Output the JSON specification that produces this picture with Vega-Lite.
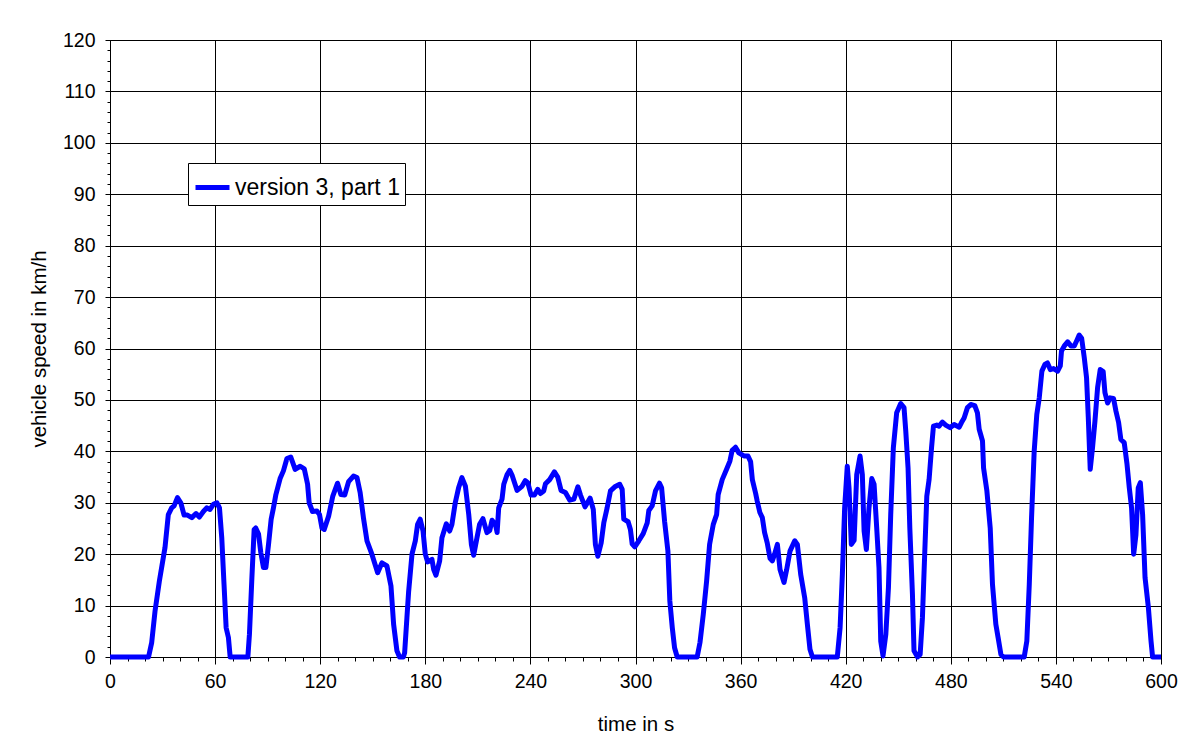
{
  "$schema": "https://vega.github.io/schema/vega-lite/v6.json",
  "width": 1051,
  "height": 617,
  "autosize": {"type": "none"},
  "padding": {"left": 110, "top": 40, "right": 43, "bottom": 92},
  "background": "white",
  "config": {
    "font": "Liberation Sans",
    "view": {"stroke": "black", "strokeWidth": 1},
    "axis": {
      "domainColor": "black",
      "tickColor": "black",
      "gridColor": "black",
      "gridWidth": 1,
      "labelColor": "black",
      "titleColor": "black",
      "labelFont": "Liberation Sans",
      "titleFont": "Liberation Sans",
      "labelFontSize": 19.5,
      "titleFontSize": 20.5,
      "titleFontWeight": "normal"
    }
  },
  "data": {
    "values": [
      {"t": 0, "v": 0}, {"t": 22, "v": 0}, {"t": 23.8, "v": 2.8}, {"t": 25.7, "v": 8.9}, {"t": 28.2, "v": 14.8},
      {"t": 31.4, "v": 21.3}, {"t": 33.3, "v": 27.7}, {"t": 35.2, "v": 29}, {"t": 36.6, "v": 29.4}, {"t": 38.5, "v": 31},
      {"t": 40.4, "v": 30}, {"t": 42.3, "v": 27.6}, {"t": 44.2, "v": 27.6}, {"t": 46.7, "v": 27.1}, {"t": 49.1, "v": 27.9},
      {"t": 51, "v": 27.2}, {"t": 53.3, "v": 28.3}, {"t": 55.2, "v": 29}, {"t": 57.1, "v": 28.7}, {"t": 59, "v": 29.7},
      {"t": 61, "v": 30}, {"t": 62.5, "v": 29}, {"t": 63.8, "v": 23.2}, {"t": 65.1, "v": 14.1}, {"t": 66.3, "v": 5.7},
      {"t": 67.6, "v": 3.8}, {"t": 68.6, "v": 0}, {"t": 78.7, "v": 0}, {"t": 79.6, "v": 4.4}, {"t": 81, "v": 15.4},
      {"t": 82.3, "v": 24.8}, {"t": 83.2, "v": 25.1}, {"t": 84.8, "v": 23.9}, {"t": 86.1, "v": 20.3}, {"t": 87.6, "v": 17.4},
      {"t": 89, "v": 17.4}, {"t": 90.5, "v": 21.9}, {"t": 92, "v": 26.8}, {"t": 93.3, "v": 29}, {"t": 94.7, "v": 31.6},
      {"t": 97.1, "v": 34.7}, {"t": 99, "v": 36.2}, {"t": 101, "v": 38.6}, {"t": 103.2, "v": 38.9}, {"t": 105.7, "v": 36.5},
      {"t": 108.6, "v": 37.1}, {"t": 110.9, "v": 36.6}, {"t": 112.8, "v": 33.6}, {"t": 113.7, "v": 30}, {"t": 115.6, "v": 28.3},
      {"t": 118.1, "v": 28.4}, {"t": 119.6, "v": 27.7}, {"t": 121, "v": 25.1}, {"t": 122.3, "v": 24.8}, {"t": 124.8, "v": 27.4},
      {"t": 127.2, "v": 31.3}, {"t": 129.9, "v": 33.8}, {"t": 131.8, "v": 31.6}, {"t": 134, "v": 31.5}, {"t": 136.2, "v": 34.1},
      {"t": 139, "v": 35.2}, {"t": 141, "v": 34.9}, {"t": 142.8, "v": 32}, {"t": 144.8, "v": 26.8}, {"t": 146.7, "v": 22.6},
      {"t": 149.5, "v": 20}, {"t": 152.8, "v": 16.4}, {"t": 155.2, "v": 18.3}, {"t": 158.1, "v": 17.7}, {"t": 160.4, "v": 13.8},
      {"t": 161.9, "v": 6.4}, {"t": 163.8, "v": 1.2}, {"t": 165.3, "v": 0}, {"t": 167.5, "v": 0}, {"t": 168.2, "v": 0.8},
      {"t": 169.5, "v": 7.6}, {"t": 170.5, "v": 12.8}, {"t": 172.4, "v": 20}, {"t": 174.3, "v": 22.6}, {"t": 175.6, "v": 25.8},
      {"t": 177.1, "v": 26.8}, {"t": 178.7, "v": 24.5}, {"t": 180, "v": 20}, {"t": 181.3, "v": 18.5}, {"t": 183.8, "v": 19},
      {"t": 184.8, "v": 17}, {"t": 186.1, "v": 15.9}, {"t": 188.2, "v": 18.7}, {"t": 189.5, "v": 23.2}, {"t": 192, "v": 25.9},
      {"t": 193.9, "v": 24.5}, {"t": 195.2, "v": 25.8}, {"t": 197.1, "v": 30}, {"t": 199, "v": 32.9}, {"t": 200.9, "v": 34.9},
      {"t": 202.9, "v": 33.2}, {"t": 204.8, "v": 27.7}, {"t": 206.3, "v": 21.9}, {"t": 207.6, "v": 19.8}, {"t": 209.5, "v": 23.2},
      {"t": 211, "v": 25.8}, {"t": 212.9, "v": 26.9}, {"t": 215.2, "v": 24.2}, {"t": 216.8, "v": 24.6}, {"t": 218.1, "v": 26.6},
      {"t": 220, "v": 25.8}, {"t": 221, "v": 24.2}, {"t": 221.9, "v": 29}, {"t": 223.8, "v": 30.7}, {"t": 224.8, "v": 33.6},
      {"t": 226.7, "v": 35.5}, {"t": 228.2, "v": 36.3}, {"t": 229.5, "v": 35.4}, {"t": 232.4, "v": 32.4}, {"t": 235.2, "v": 33.2},
      {"t": 237.1, "v": 34.3}, {"t": 238.5, "v": 33.9}, {"t": 240.4, "v": 31.5}, {"t": 242.3, "v": 31.5}, {"t": 244.2, "v": 32.6},
      {"t": 245.7, "v": 31.8}, {"t": 247.6, "v": 32.3}, {"t": 248.6, "v": 33.7}, {"t": 251, "v": 34.5}, {"t": 253.7, "v": 36},
      {"t": 255.6, "v": 35}, {"t": 257.5, "v": 32.4}, {"t": 260, "v": 32}, {"t": 262.5, "v": 30.5}, {"t": 264.8, "v": 30.7},
      {"t": 267.1, "v": 33.1}, {"t": 268.6, "v": 31.5}, {"t": 271.2, "v": 29.2}, {"t": 274.1, "v": 30.9}, {"t": 275.9, "v": 28.7},
      {"t": 277.1, "v": 21.9}, {"t": 278.5, "v": 19.6}, {"t": 280.4, "v": 22.2}, {"t": 281.9, "v": 26.1}, {"t": 283.8, "v": 29},
      {"t": 285.7, "v": 32.3}, {"t": 288.2, "v": 33.1}, {"t": 291, "v": 33.6}, {"t": 292.4, "v": 32.6}, {"t": 293.3, "v": 26.8},
      {"t": 295.8, "v": 26.3}, {"t": 297.1, "v": 24.8}, {"t": 298.1, "v": 22}, {"t": 299.6, "v": 21.4}, {"t": 301.9, "v": 22.6},
      {"t": 304.4, "v": 24}, {"t": 306.7, "v": 26.1}, {"t": 307.6, "v": 28.5}, {"t": 309.5, "v": 29.4}, {"t": 311.4, "v": 32.3},
      {"t": 313.7, "v": 33.8}, {"t": 314.9, "v": 32.9}, {"t": 316.6, "v": 26.4}, {"t": 318.5, "v": 20.6}, {"t": 319.6, "v": 10.9},
      {"t": 321, "v": 5.7}, {"t": 322.3, "v": 1.8}, {"t": 323.8, "v": 0}, {"t": 335.2, "v": 0}, {"t": 336.8, "v": 2.8},
      {"t": 338.7, "v": 8.3}, {"t": 340.6, "v": 14.8}, {"t": 342.3, "v": 21.9}, {"t": 344.4, "v": 25.8}, {"t": 346.3, "v": 27.7},
      {"t": 347.2, "v": 31.6}, {"t": 349.5, "v": 34.5}, {"t": 352, "v": 36.5}, {"t": 353.9, "v": 38.1}, {"t": 355.2, "v": 40.2},
      {"t": 357.1, "v": 40.8}, {"t": 359, "v": 39.7}, {"t": 361.9, "v": 39.1}, {"t": 364.2, "v": 39.1}, {"t": 365.7, "v": 38},
      {"t": 366.7, "v": 34.5}, {"t": 368.6, "v": 31.8}, {"t": 369.5, "v": 30.3}, {"t": 371, "v": 28.1}, {"t": 372.4, "v": 27.1},
      {"t": 373.7, "v": 24.2}, {"t": 375.2, "v": 22.2}, {"t": 376.8, "v": 19.2}, {"t": 378.1, "v": 18.7}, {"t": 379.4, "v": 20},
      {"t": 381, "v": 21.9}, {"t": 382.5, "v": 17}, {"t": 384.8, "v": 14.5}, {"t": 386.3, "v": 17}, {"t": 388.2, "v": 20.6},
      {"t": 390.9, "v": 22.6}, {"t": 392.4, "v": 21.9}, {"t": 394.3, "v": 16.1}, {"t": 396.6, "v": 11.5}, {"t": 398.1, "v": 6.4},
      {"t": 399.6, "v": 1.5}, {"t": 401, "v": 0}, {"t": 415.2, "v": 0}, {"t": 416.8, "v": 5.7}, {"t": 418.1, "v": 16.1},
      {"t": 419.4, "v": 29}, {"t": 420.9, "v": 37.1}, {"t": 421.9, "v": 32.9}, {"t": 423.2, "v": 21.9}, {"t": 424.8, "v": 22.7},
      {"t": 426.3, "v": 35.5}, {"t": 428.2, "v": 39.1}, {"t": 429.5, "v": 35.5}, {"t": 430.5, "v": 24.5}, {"t": 431.8, "v": 20.9},
      {"t": 433.3, "v": 29}, {"t": 434.9, "v": 34.7}, {"t": 436.2, "v": 33.6}, {"t": 437.7, "v": 25.1}, {"t": 439, "v": 17.4},
      {"t": 440, "v": 3.1}, {"t": 441.3, "v": 0.2}, {"t": 442.9, "v": 4.4}, {"t": 444.4, "v": 13.5}, {"t": 445.7, "v": 27.7},
      {"t": 447.2, "v": 40.7}, {"t": 449.1, "v": 47.5}, {"t": 451.4, "v": 49.3}, {"t": 453.3, "v": 48.5}, {"t": 454.3, "v": 43.9},
      {"t": 455.6, "v": 36.8}, {"t": 456.6, "v": 25.1}, {"t": 458.1, "v": 12.2}, {"t": 459, "v": 1.2}, {"t": 461, "v": 0},
      {"t": 462.5, "v": 0.5}, {"t": 463.8, "v": 7.6}, {"t": 465.1, "v": 20}, {"t": 466.3, "v": 31.3}, {"t": 467.6, "v": 34.5},
      {"t": 469, "v": 40.7}, {"t": 470.1, "v": 44.9}, {"t": 472, "v": 45.1}, {"t": 473.3, "v": 44.9}, {"t": 475.2, "v": 45.7},
      {"t": 477.1, "v": 45.1}, {"t": 479.6, "v": 44.6}, {"t": 481.9, "v": 45.2}, {"t": 484.8, "v": 44.7}, {"t": 486.1, "v": 45.6},
      {"t": 487.6, "v": 46.5}, {"t": 489.5, "v": 48.5}, {"t": 491.4, "v": 49.1}, {"t": 493.7, "v": 48.9}, {"t": 495.2, "v": 47.5},
      {"t": 496.2, "v": 44.3}, {"t": 498.1, "v": 42}, {"t": 498.7, "v": 36.8}, {"t": 500.6, "v": 32.3}, {"t": 502.5, "v": 25.1},
      {"t": 503.8, "v": 14.1}, {"t": 505.7, "v": 6.4}, {"t": 507, "v": 3.8}, {"t": 508.6, "v": 0.5}, {"t": 510.1, "v": 0},
      {"t": 521.9, "v": 0}, {"t": 523.4, "v": 3.1}, {"t": 524.8, "v": 14.1}, {"t": 526.1, "v": 27.1}, {"t": 527.6, "v": 40},
      {"t": 529.1, "v": 47.2}, {"t": 530.5, "v": 50.4}, {"t": 532, "v": 55.6}, {"t": 533.7, "v": 56.9}, {"t": 535.2, "v": 57.2},
      {"t": 536.8, "v": 55.9}, {"t": 538.7, "v": 56.1}, {"t": 541, "v": 55.6}, {"t": 542.5, "v": 56.6}, {"t": 543.2, "v": 59.5},
      {"t": 544.8, "v": 60.5}, {"t": 546.7, "v": 61.3}, {"t": 548.6, "v": 60.5}, {"t": 550.5, "v": 60.5}, {"t": 552, "v": 61.6},
      {"t": 553.3, "v": 62.6}, {"t": 554.7, "v": 62}, {"t": 556.2, "v": 58.2}, {"t": 557.5, "v": 54.3}, {"t": 558.5, "v": 46.5},
      {"t": 559.6, "v": 36.5}, {"t": 560.9, "v": 40.7}, {"t": 562.3, "v": 45.9}, {"t": 563.8, "v": 52.4}, {"t": 565.3, "v": 55.9},
      {"t": 567, "v": 55.5}, {"t": 568, "v": 51.4}, {"t": 569.5, "v": 49.4}, {"t": 571, "v": 50.4}, {"t": 572.9, "v": 50.3},
      {"t": 574.3, "v": 47.8}, {"t": 575.8, "v": 45.6}, {"t": 577.1, "v": 42.3}, {"t": 579, "v": 41.7}, {"t": 580.6, "v": 37.5},
      {"t": 581.9, "v": 32.9}, {"t": 583.2, "v": 29}, {"t": 584.4, "v": 20}, {"t": 585.7, "v": 23.8}, {"t": 587, "v": 32.9},
      {"t": 588.2, "v": 33.9}, {"t": 589.5, "v": 27.7}, {"t": 590.9, "v": 15.4}, {"t": 592.8, "v": 9.6}, {"t": 594.3, "v": 3.1},
      {"t": 595.2, "v": 0}, {"t": 600, "v": 0}
    ]
  },
  "mark": {"type": "line", "strokeWidth": 5, "strokeJoin": "round", "interpolate": "linear", "clip": false},
  "encoding": {
    "x": {
      "field": "t",
      "type": "quantitative",
      "scale": {"domain": [0, 600], "nice": false, "zero": false},
      "axis": {
        "title": "time in s",
        "titleBaseline": "alphabetic",
        "titleY": 73,
        "values": [0,10,20,30,40,50,60,70,80,90,100,110,120,130,140,150,160,170,180,190,200,210,220,230,240,250,260,270,280,290,300,310,320,330,340,350,360,370,380,390,400,410,420,430,440,450,460,470,480,490,500,510,520,530,540,550,560,570,580,590,600],
        "labelExpr": "datum.value % 60 === 0 ? datum.label : ''",
        "labelPadding": 8,
        "labelFlush": false,
        "labelOverlap": false,
        "tickSize": {"condition": {"test": "datum.value % 60 === 0", "value": 7}, "value": 4},
        "gridOpacity": {"condition": {"test": "datum.value % 60 === 0", "value": 1}, "value": 0},
        "encode": {"ticks": {"update": {"y": {"value": -4}}}}
      }
    },
    "y": {
      "field": "v",
      "type": "quantitative",
      "scale": {"domain": [0, 120], "nice": false},
      "axis": {
        "title": "vehicle speed in km/h",
        "titleBaseline": "alphabetic",
        "titleX": -65,
        "values": [0,2,4,6,8,10,12,14,16,18,20,22,24,26,28,30,32,34,36,38,40,42,44,46,48,50,52,54,56,58,60,62,64,66,68,70,72,74,76,78,80,82,84,86,88,90,92,94,96,98,100,102,104,106,108,110,112,114,116,118,120],
        "labelExpr": "datum.value % 10 === 0 ? datum.label : ''",
        "labelPadding": 10,
        "labelFlush": false,
        "labelOverlap": false,
        "tickSize": {"condition": {"test": "datum.value % 10 === 0", "value": 5}, "value": 3},
        "gridOpacity": {"condition": {"test": "datum.value % 10 === 0", "value": 1}, "value": 0},
        "encode": {"ticks": {"update": {"x": {"value": 4}}}}
      }
    },
    "color": {
      "datum": "version 3, part 1",
      "type": "nominal",
      "scale": {"range": ["#0000ff"]},
      "legend": {
        "title": null,
        "orient": "none",
        "legendX": 78,
        "legendY": 123,
        "direction": "vertical",
        "fillColor": "white",
        "strokeColor": "black",
        "padding": 5,
        "symbolType": "stroke",
        "symbolSize": 1156,
        "symbolStrokeWidth": 5,
        "labelFont": "Liberation Sans",
        "labelFontSize": 23,
        "labelColor": "black",
        "labelOffset": 3,
        "labelLimit": 400
      }
    }
  }
}
